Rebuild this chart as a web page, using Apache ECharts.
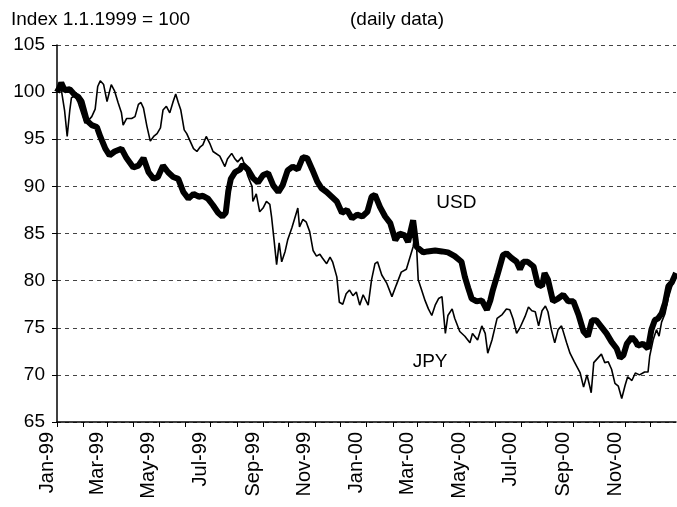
<!DOCTYPE html>
<html>
<head>
<meta charset="utf-8">
<script src="https://cdn.jsdelivr.net/npm/echarts@6/dist/echarts.min.js"></script>
<style>
html, body { margin: 0; padding: 0; background: #fff; }
#chart { width: 677px; height: 507px; }
</style>
</head>
<body>
<div id="chart"></div>
<script>
// month names for the x labels (Jan-99, Mar-99 ...)
var monthNames = ['Jan','Feb','Mar','Apr','May','Jun','Jul','Aug','Sep','Oct','Nov','Dec'];

// USD index (thick line)
var usdDates = [
  '1999-01-01','1999-01-04','1999-01-06','1999-01-10','1999-01-16','1999-01-22','1999-01-26','1999-01-30',
  '1999-02-05','1999-02-11','1999-02-17','1999-02-21','1999-02-27',
  '1999-03-04','1999-03-10','1999-03-18','1999-03-24',
  '1999-04-01','1999-04-07','1999-04-13','1999-04-19','1999-04-25','1999-04-30',
  '1999-05-06','1999-05-12','1999-05-18','1999-05-24','1999-05-30',
  '1999-06-05','1999-06-11','1999-06-17','1999-06-22','1999-06-28',
  '1999-07-04','1999-07-10','1999-07-15','1999-07-19','1999-07-22','1999-07-25','1999-07-30',
  '1999-08-05','1999-08-08','1999-08-14','1999-08-20','1999-08-26',
  '1999-09-01','1999-09-07','1999-09-13','1999-09-19','1999-09-24','1999-09-30',
  '1999-10-06','1999-10-12','1999-10-18','1999-10-23','1999-10-29',
  '1999-11-04','1999-11-09','1999-11-15','1999-11-21','1999-11-27',
  '1999-12-03','1999-12-09','1999-12-15','1999-12-21','1999-12-27',
  '2000-01-02','2000-01-07','2000-01-11','2000-01-17','2000-01-23','2000-01-29',
  '2000-02-04','2000-02-09','2000-02-15','2000-02-19','2000-02-25','2000-02-29',
  '2000-03-08','2000-03-13','2000-03-22','2000-03-30',
  '2000-04-06','2000-04-14','2000-04-22','2000-04-26','2000-04-30',
  '2000-05-04','2000-05-10','2000-05-16','2000-05-22','2000-05-26','2000-05-29',
  '2000-06-04','2000-06-10','2000-06-14','2000-06-20','2000-06-26','2000-06-30',
  '2000-07-04','2000-07-09','2000-07-16','2000-07-21','2000-07-26','2000-07-29',
  '2000-08-02','2000-08-08','2000-08-14','2000-08-20','2000-08-26',
  '2000-09-01','2000-09-07','2000-09-13','2000-09-18','2000-09-23','2000-09-28',
  '2000-10-04','2000-10-10','2000-10-16','2000-10-22','2000-10-26','2000-10-30',
  '2000-11-03','2000-11-09','2000-11-13','2000-11-16','2000-11-22','2000-11-28',
  '2000-12-02','2000-12-06','2000-12-10','2000-12-14','2000-12-18','2000-12-22','2000-12-26','2000-12-30','2000-12-31'
];
var usd = [
  100, 100.5, 101, 100.2, 100.3, 99.7, 99.5, 99,
  97, 96.5, 96.3, 95.3, 94,
  93.3, 93.7, 94, 93,
  92, 92.2, 93, 91.5, 90.8, 91,
  92.2, 91.5, 91, 90.8, 89.4,
  88.7, 89.2, 88.9, 89, 88.7,
  88, 87.2, 86.8, 87.2, 89.5, 90.8, 91.5,
  91.8, 92.3, 91.8, 90.9, 90.4,
  91.2, 91.4, 90.1, 89.4, 90.1, 91.7,
  92.1, 91.8, 93.1, 93, 91.8,
  90.5, 89.8, 89.4, 88.9, 88.4,
  87.2, 87.5, 86.6, 87, 86.8,
  87.3, 88.9, 89.1, 87.8, 86.8, 86.1,
  84.3, 85, 84.8, 84.1, 86.4, 83.6,
  83, 83.1, 83.2, 83.1,
  83, 82.6, 82, 80.4, 79.2,
  78.1, 77.8, 77.9, 76.9, 77.9, 79,
  80.8, 82.7, 82.9, 82.4, 82, 81.2,
  82, 82, 81.5, 79.6, 79.4, 80.8,
  80.1, 77.8, 78.1, 78.5, 77.8,
  77.8, 76.4, 74.6, 74.1, 75.8, 75.8,
  75.1, 74.4, 73.5, 72.8, 71.8, 72.1,
  73.3, 74, 73.6, 73.1, 73.3, 72.8,
  74.8, 75.8, 76, 76.5, 77.6, 79.4, 79.8, 80.6, 80.8
];

// JPY index (thin line)
var jpyDates = [
  '1999-01-01','1999-01-04','1999-01-06','1999-01-10','1999-01-13','1999-01-16','1999-01-18','1999-01-22','1999-01-26','1999-01-30',
  '1999-02-03','1999-02-07','1999-02-11','1999-02-15','1999-02-18','1999-02-21','1999-02-25',
  '1999-03-01','1999-03-03','1999-03-06','1999-03-10','1999-03-14','1999-03-18','1999-03-20','1999-03-24','1999-03-30',
  '1999-04-03','1999-04-07','1999-04-10','1999-04-13','1999-04-17','1999-04-21','1999-04-25','1999-04-29',
  '1999-05-03','1999-05-06','1999-05-10','1999-05-14','1999-05-18','1999-05-21','1999-05-24','1999-05-27','1999-05-31',
  '1999-06-03','1999-06-07','1999-06-11','1999-06-15','1999-06-19','1999-06-22','1999-06-26','1999-06-30',
  '1999-07-04','1999-07-06','1999-07-12','1999-07-18','1999-07-21','1999-07-26','1999-07-30',
  '1999-08-02','1999-08-07','1999-08-11','1999-08-14','1999-08-19','1999-08-20','1999-08-24','1999-08-28',
  '1999-09-01','1999-09-05','1999-09-09','1999-09-11','1999-09-14','1999-09-17','1999-09-20','1999-09-23','1999-09-27','1999-09-30',
  '1999-10-05','1999-10-09','1999-10-12','1999-10-14','1999-10-18','1999-10-22','1999-10-26','1999-10-30',
  '1999-11-03','1999-11-07','1999-11-10','1999-11-15','1999-11-19','1999-11-22','1999-11-27','1999-11-30',
  '1999-12-04','1999-12-08','1999-12-12','1999-12-16','1999-12-20','1999-12-24','1999-12-28',
  '2000-01-03','2000-01-07','2000-01-11','2000-01-14','2000-01-19','2000-01-25','2000-01-31',
  '2000-02-05','2000-02-11','2000-02-17','2000-02-21','2000-02-25','2000-02-28',
  '2000-03-02','2000-03-06','2000-03-10','2000-03-14','2000-03-18','2000-03-22','2000-03-26','2000-03-30',
  '2000-04-03','2000-04-06','2000-04-11','2000-04-14','2000-04-20','2000-04-26',
  '2000-05-02','2000-05-05','2000-05-11','2000-05-16','2000-05-20','2000-05-23','2000-05-28',
  '2000-06-03','2000-06-09','2000-06-14','2000-06-18','2000-06-22','2000-06-26','2000-06-30',
  '2000-07-06','2000-07-10','2000-07-14','2000-07-18','2000-07-22','2000-07-26','2000-07-30',
  '2000-08-02','2000-08-06','2000-08-10','2000-08-14','2000-08-18','2000-08-24','2000-08-28',
  '2000-09-02','2000-09-09','2000-09-13','2000-09-17','2000-09-20','2000-09-22','2000-09-25','2000-09-30',
  '2000-10-04','2000-10-08','2000-10-12','2000-10-16','2000-10-20','2000-10-24','2000-10-28',
  '2000-11-01','2000-11-04','2000-11-09','2000-11-13','2000-11-18','2000-11-24','2000-11-28','2000-11-30',
  '2000-12-04','2000-12-08','2000-12-11','2000-12-14','2000-12-18','2000-12-22','2000-12-26','2000-12-30','2000-12-31'
];
var jpy = [
  100, 100.8, 100.3, 98, 95.3, 98, 99.4, 99.6, 98.9, 97.8,
  96.7, 97, 97.4, 98.2, 100.6, 101.2, 100.8,
  99, 99, 100.8, 100.1, 98.9, 97.8, 96.5, 97.2, 97.2,
  97.4, 98.7, 98.9, 98.3, 96.4, 94.8, 95.3, 95.6,
  96.2, 98.1, 98.5, 97.8, 99, 99.8, 98.9, 98.1, 96,
  95.6, 94.8, 94, 93.7, 94.2, 94.4, 95.3, 94.6,
  93.7, 93.9, 93.2, 92.1, 92.9, 93.5, 92.9,
  92.6, 93.1, 92.1, 91.1, 90, 88.4, 89.2, 87.3,
  87.7, 88.4, 88.1, 86.8, 84.3, 81.7, 84, 82, 83.1, 84.3,
  85.6, 86.8, 87.7, 85.7, 86.5, 86.2, 85.2, 83.2,
  82.6, 82.8, 82.4, 81.8, 82.5, 82, 80.4, 77.7,
  77.5, 78.6, 79, 78.4, 78.8, 77.4, 78.5,
  77.4, 80.1, 81.8, 82, 80.6, 79.7, 78.3,
  79.5, 80.9, 81.2, 82.4, 83.6, 85.5,
  80.1, 79, 77.9, 77, 76.3, 77.4, 78.1, 78.3,
  74.4, 76.3, 77, 76, 74.6, 74.1,
  73.4, 74.4, 73.7, 75.2, 74.4, 72.3, 73.7,
  76, 76.4, 77, 76.9, 75.9, 74.4, 75,
  76.2, 77.2, 76.8, 76.7, 75.2, 76.8, 77.3,
  76.7, 74.8, 73.4, 74.8, 75.2, 73.4, 72.3,
  71.4, 70.2, 68.7, 70, 68.9, 68.1, 71.3, 71.8,
  72.2, 71.3, 71.4, 70.6, 69.1, 68.8, 67.5,
  68.9, 69.8, 69.4, 70.2, 70, 70.3, 70.3, 72,
  73.7, 74.8, 74.1, 75.6, 76.5, 78.2, 79.4, 80.4, 80.6
];

// one category per calendar day, 1999-01-01 .. 2000-12-31
var days = [];
var dt = new Date(Date.UTC(1999, 0, 1));
while (dt.getUTCFullYear() < 2001) {
  days.push(dt.toISOString().slice(0, 10));
  dt.setUTCDate(dt.getUTCDate() + 1);
}

function pairs(dates, vals) {
  return dates.map(function (s, i) { return [days.indexOf(s), vals[i]]; });
}

function isMonthStart(i, v) { return v.slice(8) === '01'; }
function isLabelMonth(i, v) { return v.slice(8) === '01' && (+v.slice(5, 7)) % 2 === 1; }

var font = 'Liberation Sans';

var chart = echarts.init(document.getElementById('chart'));
var option = {
  animation: false,
  backgroundColor: '#fff',
  title: [
    { text: 'Index 1.1.1999 = 100', left: 6, top: 5,
      textStyle: { fontFamily: font, fontSize: 19, fontWeight: 'normal', color: '#000' } },
    { text: '(daily data)', left: 345, top: 5,
      textStyle: { fontFamily: font, fontSize: 19, fontWeight: 'normal', color: '#000' } }
  ],
  grid: { left: 57, right: 1, top: 45, bottom: 85 },
  xAxis: {
    type: 'category',
    data: days,
    boundaryGap: false,
    axisLine: { lineStyle: { color: '#000', width: 1.5 } },
    axisTick: { show: true, interval: isMonthStart, length: 5, lineStyle: { color: '#000' } },
    axisLabel: {
      interval: isLabelMonth,
      rotate: 90,
      margin: 10,
      verticalAlign: 'bottom',
      color: '#000',
      fontFamily: font,
      fontSize: 20,
      formatter: function (v) { return monthNames[+v.slice(5, 7) - 1] + '-' + v.slice(2, 4); }
    },
    splitLine: { show: false }
  },
  yAxis: {
    type: 'value',
    min: 65,
    max: 105,
    interval: 5,
    axisLine: { show: true, lineStyle: { color: '#000', width: 1.5 } },
    axisTick: { show: true, length: 5, lineStyle: { color: '#000' } },
    axisLabel: { color: '#000', fontFamily: font, fontSize: 19, margin: 12 },
    splitLine: { lineStyle: { color: '#444', type: [4, 4], width: 1 } }
  },
  series: [
    {
      name: 'USD',
      type: 'line',
      data: pairs(usdDates, usd),
      showSymbol: false,
      lineStyle: { color: '#000', width: 6 },
      itemStyle: { color: '#000' },
      markPoint: {
        symbol: 'circle', symbolSize: 1,
        itemStyle: { color: 'rgba(0,0,0,0)' },
        label: { show: true, position: 'inside', formatter: '{b}', color: '#000', fontFamily: font, fontSize: 19 },
        data: [{ name: 'USD', coord: [days.indexOf('2000-04-16'), 88.3] }]
      }
    },
    {
      name: 'JPY',
      type: 'line',
      data: pairs(jpyDates, jpy),
      showSymbol: false,
      lineStyle: { color: '#000', width: 1.6 },
      itemStyle: { color: '#000' },
      markPoint: {
        symbol: 'circle', symbolSize: 1,
        itemStyle: { color: 'rgba(0,0,0,0)' },
        label: { show: true, position: 'inside', formatter: '{b}', color: '#000', fontFamily: font, fontSize: 19 },
        data: [{ name: 'JPY', coord: [days.indexOf('2000-03-16'), 71.4] }]
      }
    }
  ]
};
chart.setOption(option);
</script>
</body>
</html>
